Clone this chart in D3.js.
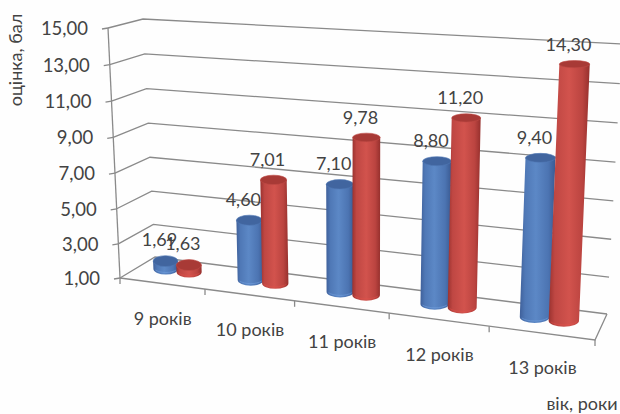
<!DOCTYPE html>
<html>
<head>
<meta charset="utf-8">
<script src="https://cdn.jsdelivr.net/npm/d3@7/dist/d3.min.js"></script>
<style>
html,body{margin:0;padding:0;background:#fefefe;}
svg{display:block;}
text{font-family:Lato,"Open Sans",sans-serif;fill:#434343;}
</style>
</head>
<body>
<svg id="chart" width="620" height="414"></svg>
<script>
// Chart data
const categories = ["9 років", "10 років", "11 років", "12 років", "13 років"];
const seriesBlue = [1.69, 4.60, 7.10, 8.80, 9.40];
const seriesRed = [1.63, 7.01, 9.78, 11.20, 14.30];
const valueTicks = [1, 3, 5, 7, 9, 11, 13, 15];
const yTitle = "оцінка, бал";
const xTitle = "вік, роки";

const fmt = v => v.toFixed(2).replace(".", ",");
const svg = d3.select("#chart");

// Height along each vertical edge of the 3D box, slightly stretched upward by perspective
const level = d3.scalePow().exponent(1.035).domain([1, 15]).range([0, 1]);
const frontX = d3.scaleLinear().domain([0, 1]).range([120, 108]);
const frontY = d3.scaleLinear().domain([0, 1]).range([278, 28]);
const backLX = d3.scaleLinear().domain([0, 1]).range([155, 143]);
const backLY = d3.scaleLinear().domain([0, 1]).range([257, 19]);
const backRX = d3.scaleLinear().domain([0, 1]).range([607, 622]);
const backRY = d3.scaleLinear().domain([0, 1]).range([314, 44]);

// Category position along the floor, foreshortened toward the left
const foreshorten = 0.147;
const catPos = d3.scaleLinear().domain([0, categories.length]).range([0, 1]);
const depth = t => { const z = catPos(t); return z / (1 + foreshorten * (1 - z)); };
const floorX = d3.scaleLinear().domain([0, 1]).range([120, 595]);
const floorY = d3.scaleLinear().domain([120, 595]).range([278, 340]);

// Cylinder row sits a little behind the front edge
const rowX = d3.scaleLinear().domain([0, 1]).range([125, 587]);
const rowY = d3.scaleLinear().domain([166, 535]).range([269, 317]);
const unitPx = d3.scaleLinear().domain([166, 565]).range([17.2, 19.6]);
const radiusX = d3.scaleLinear().domain([166, 565]).range([12.4, 15.2]);
const radiusY = d3.scaleLinear().domain([60, 320]).range([3.6, 6]);
const leanRate = d3.scaleLinear().domain([120, 565]).range([-0.048, 0.042]);

const gridColor = "#8a8a8a";
const grid = svg.append("g").attr("fill", "none").attr("stroke", gridColor).attr("stroke-width", 1.3);
const line = d3.line();

// Gridlines wrapping the left and back walls
valueTicks.forEach(v => {
  const k = level(v);
  grid.append("path").attr("d", line([
    [frontX(k), frontY(k)], [backLX(k), backLY(k)], [backRX(k), backRY(k)]
  ]));
});

// Front vertical axis, floor edges and tick marks
const k0 = level(1), k1 = level(15);
grid.append("path").attr("d", line([[frontX(k0), frontY(k0)], [frontX(k1), frontY(k1)]]));
grid.append("path").attr("d", line([[floorX(0), floorY(floorX(0))], [floorX(1), floorY(floorX(1))], [backRX(k0), backRY(k0)]]));
valueTicks.forEach(v => {
  const k = level(v);
  grid.append("path").attr("d", line([[frontX(k) - 6, frontY(k) + 1], [frontX(k), frontY(k)]]));
});
d3.range(categories.length + 1).forEach(i => {
  const x = floorX(depth(i));
  grid.append("path").attr("d", line([[x, floorY(x)], [x, floorY(x) + 6]]));
});

// Value axis labels
svg.append("g").selectAll("text").data(valueTicks).join("text")
  .attr("x", v => frontX(level(v)) - 20)
  .attr("y", v => frontY(level(v)) + 7)
  .attr("text-anchor", "end")
  .attr("font-size", 18.5)
  .text(fmt);

// Category labels
const catLabelShift = 0.52;
svg.append("g").selectAll("text").data(categories).join("text")
  .attr("x", (d, i) => floorX(depth(i + catLabelShift)) - 1)
  .attr("y", (d, i) => floorY(floorX(depth(i + catLabelShift))) + 41)
  .attr("text-anchor", "middle")
  .attr("font-size", 18)
  .text(d => d);

// Gradients across the cylinder bodies
const defs = svg.append("defs");
function bodyGradient(id, stops) {
  const g = defs.append("linearGradient").attr("id", id);
  stops.forEach(([o, c]) => g.append("stop").attr("offset", o).attr("stop-color", c));
}
bodyGradient("bodyBlue", [[0, "#3f609a"], [0.15, "#4f78b6"], [0.45, "#5c88c6"], [0.8, "#4c74b2"], [1, "#3a5a92"]]);
bodyGradient("bodyRed", [[0, "#9a322f"], [0.15, "#bf4743"], [0.5, "#d2534d"], [0.82, "#bb4440"], [1, "#96302d"]]);

// One cylinder with its value label; the label is painted before later cylinders
function drawCylinder(value, t, bodyId, capFill, rimFill, baseRim) {
  const x = rowX(depth(t));
  const baseY = rowY(x);
  const h = unitPx(x) * (value - 1) - 4;
  const topY = baseY - h;
  const topX = x + leanRate(x) * h;
  const rx = radiusX(x);
  const ryB = radiusY(baseY), ryT = radiusY(topY);
  const g = svg.append("g");
  g.append("path")
    .attr("fill", `url(#${bodyId})`)
    .attr("d", `M${topX - rx},${topY}L${x - rx},${baseY}A${rx},${ryB} 0 0 0 ${x + rx},${baseY}L${topX + rx},${topY}Z`);
  g.append("path")
    .attr("fill", "none").attr("stroke", baseRim).attr("stroke-width", 0.8).attr("stroke-opacity", 0.6)
    .attr("d", `M${x - rx + 2},${baseY + 1}A${rx},${ryB} 0 0 0 ${x + rx - 2},${baseY + 1}`);
  g.append("ellipse").attr("cx", topX).attr("cy", topY).attr("rx", rx).attr("ry", ryT).attr("fill", capFill).attr("stroke", rimFill).attr("stroke-width", 0.6);
  g.append("text")
    .attr("x", topX - 6)
    .attr("y", topY - ryT - 9.5)
    .attr("text-anchor", "middle")
    .attr("font-size", 18)
    .text(fmt(value));
}

const blueOffset = 0.5, redOffset = 0.78;
categories.forEach((c, i) => {
  drawCylinder(seriesBlue[i], i + blueOffset, "bodyBlue", "#41659f", "#5079b6", "#79a6e6");
  drawCylinder(seriesRed[i], i + redOffset, "bodyRed", "#a83a36", "#c04a45", "#e4504a");
});

// Axis titles
svg.append("text")
  .attr("transform", "translate(22,60) rotate(-90)")
  .attr("text-anchor", "middle")
  .attr("font-size", 18)
  .text(yTitle);
svg.append("text")
  .attr("x", 582).attr("y", 410)
  .attr("text-anchor", "middle")
  .attr("font-size", 18)
  .text(xTitle);
</script>
</body>
</html>
